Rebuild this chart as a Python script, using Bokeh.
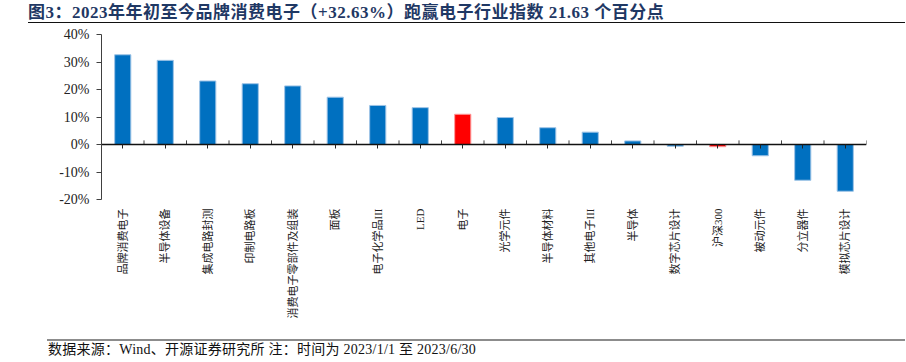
import math
from bokeh.plotting import figure
from bokeh.layouts import column
from bokeh.models import (ColumnDataSource, FactorRange, Range1d, FixedTicker,
                          PrintfTickFormatter, CategoricalAxis, Div)
from bokeh.transform import dodge
from bokeh.embed import file_html
from bokeh.resources import INLINE

# ---- data ----
categories = ["品牌消费电子", "半导体设备", "集成电路封测", "印制电路板", "消费电子零部件及组装",
              "面板", "电子化学品III", "LED", "电子", "光学元件", "半导体材料", "其他电子III",
              "半导体", "数字芯片设计", "沪深300", "被动元件", "分立器件", "模拟芯片设计"]
returns_pct = [32.63, 30.6, 23.1, 22.1, 21.3, 17.2, 14.2, 13.4, 11.0, 9.8, 6.1, 4.5,
               1.3, -0.6, -0.8, -4.1, -13.0, -17.0]
highlighted = ["电子", "沪深300"]
y_ticks = [-20, -10, 0, 10, 20, 30, 40]
title_text = "图3：2023年年初至今品牌消费电子（+32.63%）跑赢电子行业指数 21.63 个百分点"
footer_text = "数据来源：Wind、开源证券研究所 注：时间为 2023/1/1 至 2023/6/30"

FONT = "Liberation Serif, Noto Sans CJK SC"
CSS_FONT = "'Liberation Serif','Noto Sans CJK SC',serif"
BLUE, BLUE_EDGE = "#0070C0", "#9DC3E6"
RED, RED_EDGE = "#FF0000", "#FF9A9A"

fills = [RED if c in highlighted else BLUE for c in categories]
edges = [RED_EDGE if c in highlighted else BLUE_EDGE for c in categories]
src = ColumnDataSource(dict(cat=categories, val=returns_pct, fill=fills, edge=edges))

p = figure(width=906, height=310, x_range=FactorRange(*categories), y_range=Range1d(-20, 40),
           output_backend="svg", toolbar_location=None,
           min_border_left=101, min_border_right=40, min_border_top=8, min_border_bottom=137)
p.grid.visible = False
p.outline_line_color = None
p.background_fill_color = "white"
p.border_fill_color = "white"

p.vbar(x="cat", top="val", bottom=0, width=0.38, source=src,
       fill_color="fill", line_color="edge", line_width=1)

# y axis
p.yaxis.ticker = FixedTicker(ticks=y_ticks)
p.yaxis.formatter = PrintfTickFormatter(format="%d%%")
p.yaxis.major_tick_in = 0
p.yaxis.major_tick_out = 5
p.yaxis.minor_tick_line_color = None
p.yaxis.axis_line_color = "#404040"
p.yaxis.major_tick_line_color = "#404040"
p.yaxis.major_label_standoff = 7
p.yaxis.major_label_text_font = FONT
p.yaxis.major_label_text_font_size = "14px"
p.yaxis.major_label_text_color = "#222222"

# x axis labels (bottom)
p.xaxis.major_label_orientation = math.pi / 2
p.xaxis.axis_line_color = None
p.xaxis.major_tick_line_color = None
p.xaxis.minor_tick_line_color = None
p.xaxis.major_label_standoff = 3
p.xaxis.major_label_text_font = FONT
p.xaxis.major_label_text_font_size = "11px"
p.xaxis.major_label_text_color = "#222222"

# zero line axis with ticks at category centers
zero_axis = CategoricalAxis(fixed_location=0, axis_line_color="#111111", axis_line_width=1.5,
                            major_tick_in=0, major_tick_out=4, major_tick_line_color="#222222",
                            minor_tick_line_color=None, major_label_text_alpha=0,
                            major_label_text_font_size="1px")
p.add_layout(zero_axis, "below")

# boundary ticks on the zero line (pointing up)
bsrc = ColumnDataSource(dict(cat=categories, y0=[0] * len(categories), y1=[1.5] * len(categories)))
p.segment(x0=dodge("cat", 0.5, range=p.x_range), y0="y0",
          x1=dodge("cat", 0.5, range=p.x_range), y1="y1",
          source=bsrc, line_color="#444444", line_width=1)

title_html = (
    f'<div style="margin:0 0 0 28px;padding:0;width:877px;height:23px;'
    f'border-bottom:1.5px solid #111;font-family:{CSS_FONT};font-weight:bold;'
    f'font-size:17px;letter-spacing:0.5px;line-height:26px;color:#1F3864;'
    f'white-space:nowrap;">{title_text}</div>'
)
footer_html = (
    f'<div style="margin:3px 0 0 47px;padding:1px 0 0 1px;width:858px;'
    f'border-top:2px solid #8C8C8C;font-family:{CSS_FONT};font-size:14px;'
    f'letter-spacing:0.25px;line-height:16px;color:#111;white-space:nowrap;">{footer_text}</div>'
)
title_div = Div(text=title_html, width=906, height=26, margin=(0, 0, 0, 0))
footer_div = Div(text=footer_html, width=906, height=26, margin=(0, 0, 0, 0))

layout = column(title_div, p, footer_div, spacing=0)
open("out.html", "w").write(file_html(layout, INLINE))
